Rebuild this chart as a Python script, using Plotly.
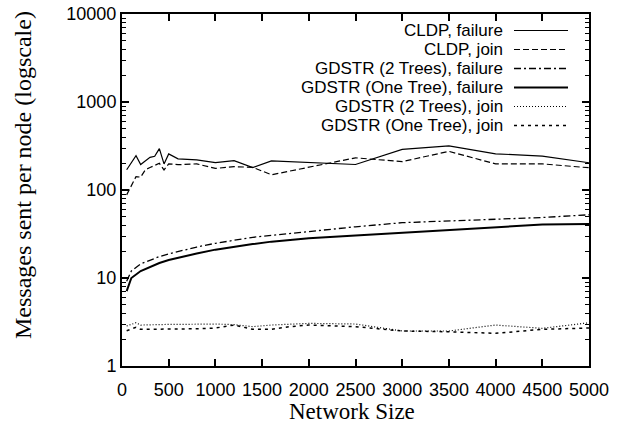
import plotly.graph_objects as go

# ---------------- data ----------------
x_cldp = [50, 150, 200, 250, 300, 350, 400, 450, 500, 600, 800, 1000, 1200, 1400, 1600,
          2500, 3000, 3500, 4000, 4500, 5000]
cldp_failure = [170, 245, 195, 212, 235, 242, 295, 198, 257, 226, 220, 205, 216, 180, 214,
                195, 290, 318, 258, 243, 204]
cldp_join = [88, 142, 140, 170, 180, 190, 201, 169, 198, 194, 198, 176, 184, 181, 149,
             232, 210, 275, 198, 198, 179]

x_gdstr = [50, 100, 200, 300, 400, 500, 600, 800, 1000, 1200, 1400, 1600, 2000, 2500,
           3000, 3500, 4000, 4500, 5000]
gdstr2_failure = [9.2, 12.0, 14.5, 16.0, 17.5, 18.8, 20.0, 22.5, 24.8, 27.0, 29.0, 30.5,
                  34.0, 38.2, 42.5, 44.7, 46.5, 48.7, 52.3]
gdstr1_failure = [7.1, 10.0, 12.0, 13.4, 14.8, 16.0, 17.0, 19.0, 21.0, 22.8, 24.3, 25.9,
                  28.3, 30.5, 32.9, 35.5, 38.0, 40.5, 41.0]

x_join = [50, 150, 200, 300, 400, 500, 600, 800, 1000, 1200, 1400, 1600, 1800, 2000,
          2500, 3000, 3500, 4000, 4500, 5000]
gdstr2_join = [2.85, 3.1, 2.92, 2.95, 2.97, 2.97, 2.97, 3.0, 3.0, 2.95, 2.8, 2.92, 3.0,
               3.05, 3.0, 2.5, 2.5, 2.92, 2.68, 3.1]
gdstr1_join = [2.52, 2.75, 2.61, 2.61, 2.61, 2.61, 2.65, 2.65, 2.7, 2.92, 2.61, 2.61, 2.8,
               2.92, 2.8, 2.5, 2.45, 2.35, 2.61, 2.7]

series_names = ["CLDP, failure", "CLDP, join", "GDSTR (2 Trees), failure",
                "GDSTR (One Tree), failure", "GDSTR (2 Trees), join",
                "GDSTR (One Tree), join"]
series_x = [x_cldp, x_cldp, x_gdstr, x_gdstr, x_join, x_join]
series_y = [cldp_failure, cldp_join, gdstr2_failure, gdstr1_failure, gdstr2_join, gdstr1_join]
series_dash = ["solid", "6px,3px", "7px,3px,2px,3px", "solid", "1px,2px", "3px,4px"]
series_width = [1.2, 1.2, 1.3, 2.0, 1.2, 1.5]

y_tickvals = [1, 10, 100, 1000, 10000]
y_ticktext = ["1", "10", "100", "1000", "10000"]
y_minor = [m * 10 ** d for d in range(4) for m in range(2, 10)]
x_tickvals = list(range(0, 5001, 500))

# ---------------- figure ----------------
fig = go.Figure()
for xs, ys, name, dash, w in zip(series_x, series_y, series_names, series_dash, series_width):
    fig.add_trace(go.Scatter(x=xs, y=ys, mode="lines", name=name,
                             line=dict(color="black", width=w, dash=dash),
                             showlegend=False))

W, H = 621, 423
L, R, T, B = 122, 32, 14, 57
plot_w = W - L - R
plot_h = H - T - B

tick_font = dict(family="Liberation Sans, Arial, sans-serif", size=18, color="black")
title_font = dict(family="Liberation Serif, Times New Roman, serif", size=24, color="black")
xtitle_font = dict(family="Liberation Serif, Times New Roman, serif", size=23, color="black")

fig.update_layout(
    width=W, height=H,
    margin=dict(l=L, r=R, t=T, b=B, autoexpand=False),
    paper_bgcolor="white", plot_bgcolor="white",
    showlegend=False,
    xaxis=dict(range=[0, 5000], tickvals=x_tickvals, ticks="inside", ticklen=7,
               tickwidth=1.5, tickcolor="black", showline=True, linecolor="black",
               linewidth=2, mirror="allticks", showgrid=False, zeroline=False,
               tickfont=tick_font, ticklabelstandoff=6, automargin=False),
    yaxis=dict(type="log", range=[0, 4], tickvals=y_tickvals, ticktext=y_ticktext,
               ticks="inside", ticklen=7, tickwidth=1.5, tickcolor="black",
               showline=True, linecolor="black", linewidth=2, mirror="allticks",
               showgrid=False, zeroline=False, tickfont=tick_font, automargin=False,
               minor=dict(tickvals=y_minor, ticks="inside", ticklen=4, tickwidth=1.2,
                          tickcolor="black", showgrid=False)),
)

# axis titles (placed as in the reference)
ytitle_center_px = 175 - T
fig.add_annotation(text="Messages sent per node (logscale)", textangle=-90,
                   xref="paper", yref="paper", x=0, y=1 - ytitle_center_px / plot_h,
                   xanchor="center", yanchor="middle", xshift=-(L - 23),
                   showarrow=False, font=title_font)
fig.add_annotation(text="Network Size", xref="paper", yref="paper",
                   x=(352 - L) / plot_w, y=0, xanchor="center", yanchor="middle",
                   yshift=-(411 - (H - B)), showarrow=False, font=xtitle_font, borderpad=0)

# ---------------- gnuplot-style key (text right-aligned, sample on the right) ----------------
legend_font = dict(family="Liberation Sans, Arial, sans-serif", size=17, color="black")
row0_px = 30.5
row_step_px = 19
text_right_px = 504 - L
sample_x0_px = 514 - L
sample_x1_px = 568 - L
for i, (name, dash, w) in enumerate(zip(series_names, series_dash, series_width)):
    ypx = row0_px + i * row_step_px - T
    yp = 1 - ypx / plot_h
    fig.add_annotation(x=text_right_px / plot_w, y=yp, xref="paper", yref="paper",
                       text=name, showarrow=False, xanchor="right", yanchor="middle",
                       font=legend_font, borderpad=0, height=19)
    fig.add_shape(type="line", xref="paper", yref="paper",
                  x0=sample_x0_px / plot_w, x1=sample_x1_px / plot_w, y0=yp, y1=yp,
                  line=dict(color="black", width=w, dash=dash))

fig.write_html("out.html")
